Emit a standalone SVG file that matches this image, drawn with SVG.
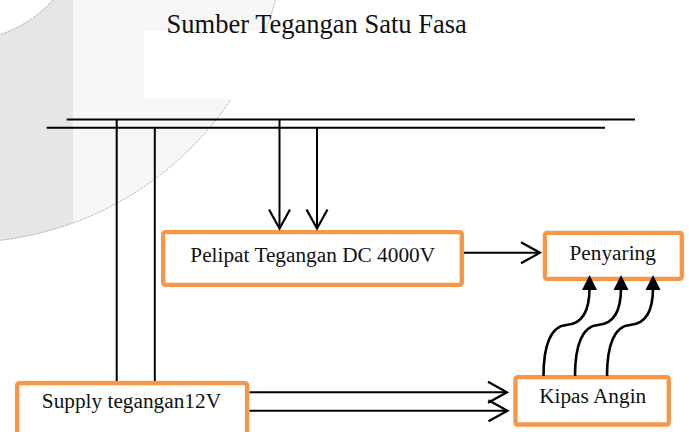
<svg xmlns="http://www.w3.org/2000/svg" width="689" height="432" viewBox="0 0 689 432">
<style>
.box{fill:#fff;stroke:#f79646;stroke-width:4.3}
.lbl{font-family:"Liberation Serif","Times New Roman",serif;font-size:21.3px;fill:#111;text-anchor:middle}
.wire{stroke:#000;stroke-width:2;fill:none}
.curve{stroke:#000;stroke-width:2.6;fill:none}
.head{fill:#000}
.arc{fill:none;stroke:#a8a8a8;stroke-width:0.8;stroke-dasharray:3 1}
</style>
<defs>
<clipPath id="ring"><path clip-rule="evenodd" d="M-360.5,-80.5 a323,323 0 1,0 646,0 a323,323 0 1,0 -646,0 Z M-158.5,-80.5 a121,121 0 1,0 242,0 a121,121 0 1,0 -242,0 Z"/></clipPath>
<marker id="open" markerUnits="userSpaceOnUse" viewBox="-22 -13 24 26" refX="0" refY="0" markerWidth="24" markerHeight="26" orient="auto">
<path d="M-19,-10.5 L0,0 L-19,10.5" fill="none" stroke="#000" stroke-width="2.2"/>
</marker>
<path id="tri" d="M0,0 L-7.5,15 L7.5,15 Z"/>
</defs>
<rect width="689" height="432" fill="#fff"/>
<g id="watermark">
<g clip-path="url(#ring)">
<rect x="0" y="0" width="689" height="432" fill="#f7f7f7"/>
<rect x="0" y="0" width="73" height="432" fill="#e6e6e8"/>
</g>
<circle class="arc" cx="-37.5" cy="-80.5" r="323"/>
<circle class="arc" cx="-37.5" cy="-80.5" r="121"/>
<rect x="144" y="31" width="190" height="68" fill="#fff"/>
</g>
<g id="sumber">
<text x="316.7" y="33" font-family="'Liberation Serif','Times New Roman',serif" font-size="26.5" fill="#111" text-anchor="middle">Sumber Tegangan Satu Fasa</text>
<line x1="66.7" y1="119.5" x2="635" y2="119.5" stroke="#000" stroke-width="2"/>
<line x1="46.7" y1="127.7" x2="605" y2="127.7" stroke="#000" stroke-width="2"/>
</g>
<g id="pelipat">
<rect class="box" x="163.2" y="232.2" width="298.6" height="52.6" rx="2"/>
<text class="lbl" x="312.7" y="262">Pelipat Tegangan DC 4000V</text>
</g>
<g id="penyaring">
<rect class="box" x="544.9" y="232.9" width="136.9" height="45.9" rx="2"/>
<text class="lbl" x="612.7" y="259.5">Penyaring</text>
</g>
<g id="kipas">
<rect class="box" x="515.5" y="377.2" width="153.3" height="47.3" rx="2"/>
<text class="lbl" x="592.7" y="403.3">Kipas Angin</text>
</g>
<g id="supply">
<rect class="box" x="17.2" y="383.2" width="229.9" height="70" rx="2"/>
<text class="lbl" x="131.4" y="408">Supply tegangan12V</text>
</g>
<g id="connectors">
<line class="wire" x1="116.7" y1="120" x2="116.7" y2="381"/>
<line class="wire" x1="154.8" y1="128" x2="154.8" y2="381"/>
<line class="wire" x1="279.5" y1="120" x2="279.5" y2="228.5" marker-end="url(#open)"/>
<line class="wire" x1="317" y1="128" x2="317" y2="228.5" marker-end="url(#open)"/>
<line class="wire" x1="464" y1="252.7" x2="540" y2="252.7" marker-end="url(#open)"/>
<line class="wire" x1="249.5" y1="392.3" x2="507" y2="392.3" marker-end="url(#open)"/>
<line class="wire" x1="249.5" y1="410.7" x2="507.5" y2="410.7" marker-end="url(#open)"/>
<path class="curve" d="M543.5,376 C543.5,345 551,326 566.5,325 C582,324 589.5,312 589.5,288"/>
<path class="curve" d="M575,376 C575,345 582.5,326 598,325 C613.5,324 621,312 621,288"/>
<path class="curve" d="M607,376 C607,345 614.5,326 630,325 C645.5,324 653,312 653,288"/>
<use href="#tri" class="head" x="589.5" y="275"/>
<use href="#tri" class="head" x="621" y="275"/>
<use href="#tri" class="head" x="653" y="275"/>
</g>
</svg>
